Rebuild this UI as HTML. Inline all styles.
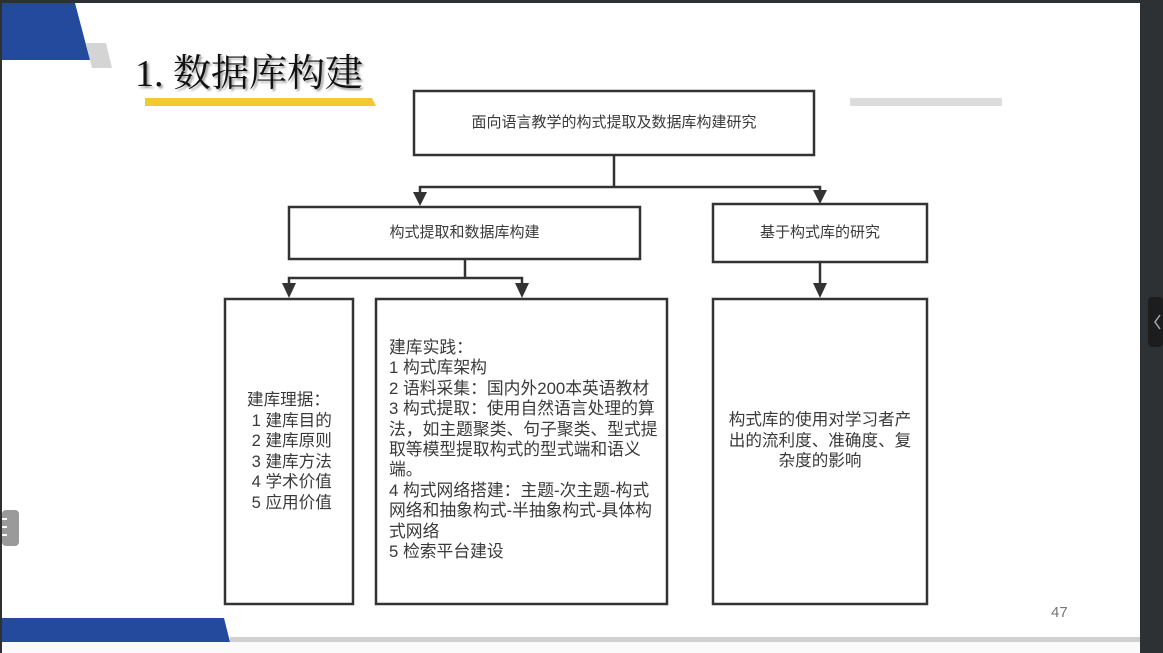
<!DOCTYPE html>
<html><head><meta charset="utf-8"><style>
html,body{margin:0;padding:0}
body{width:1163px;height:653px;position:relative;overflow:hidden;background:#fff;font-family:"Liberation Sans","Noto Sans CJK SC",sans-serif}
.t{position:absolute;color:#3a3a3a;font-size:16px;line-height:20.4px;white-space:nowrap}
.c{text-align:center}
</style></head><body>
<svg width="1163" height="653" style="position:absolute;left:0;top:0">
<rect x="0" y="0" width="1163" height="3" fill="#2e3133"/>
<rect x="0" y="0" width="2" height="653" fill="#2e3133"/>
<rect x="1140" y="0" width="23" height="653" fill="#2e3133"/>
<rect x="1148" y="297" width="15" height="50" rx="4" fill="#1c1d1f"/>
<polyline points="1160,315 1155,322 1160,329" fill="none" stroke="#aaa" stroke-width="1.5"/>
<polygon points="2,3 75,3 90,60 2,60" fill="#244a9e"/>
<polygon points="86,43 106,43 112,68 92,68" fill="#d4d4d4"/>
<polygon points="145,98 372,98 376,106 145,106" fill="#f5c832"/>
<rect x="850" y="98" width="152" height="8" fill="#dcdcdc"/>
<rect x="2" y="510" width="17" height="36" rx="4" fill="#9a9a9a"/>
<rect x="2" y="518" width="5" height="2" fill="#fff"/><rect x="2" y="526" width="5" height="2" fill="#fff"/><rect x="2" y="534" width="5" height="2" fill="#fff"/>
<polygon points="2,618 224,618 230,642 2,642" fill="#244a9e"/>
<rect x="230" y="637" width="910" height="5" fill="#d0d0d0"/>
<rect x="2" y="642" width="1138" height="11" fill="#fafafa"/>
<g fill="none" stroke="#333" stroke-width="2.5">
<rect x="414" y="91" width="400" height="64"/>
<rect x="289" y="207" width="351" height="52"/>
<rect x="713" y="204" width="214" height="58"/>
<rect x="225" y="299" width="128" height="305"/>
<rect x="376" y="299" width="291" height="305"/>
<rect x="713" y="299" width="214" height="305"/>
<polyline points="614,155 614,187"/>
<polyline points="420,195 420,187 820,187 820,193"/>
<polyline points="465,259 465,278"/>
<polyline points="289,286 289,278 522,278 522,285"/>
<polyline points="820,262 820,285"/>
</g>
<g fill="#333">
<polygon points="413,192 427,192 420,206"/>
<polygon points="813,190 827,190 820,204"/>
<polygon points="282,283 296,283 289,298"/>
<polygon points="515,283 529,283 522,298"/>
<polygon points="813,283 827,283 820,298"/>
</g>
</svg>
<div class="t" style="left:135px;top:52px;font-family:'Liberation Serif','Noto Serif CJK SC',serif;font-size:38px;line-height:44px;color:#111;text-shadow:2px 2px 2px #999">1. 数据库构建</div>
<div class="t c" style="left:414px;top:113px;width:400px;font-size:15px">面向语言教学的构式提取及数据库构建研究</div>
<div class="t c" style="left:289px;top:223px;width:351px;font-size:15px">构式提取和数据库构建</div>
<div class="t c" style="left:713px;top:223px;width:214px;font-size:15px">基于构式库的研究</div>
<div class="t" style="left:247px;top:390px;line-height:20.6px;font-size:16.6px">建库理据：<br>&nbsp;1 建库目的<br>&nbsp;2 建库原则<br>&nbsp;3 建库方法<br>&nbsp;4 学术价值<br>&nbsp;5 应用价值</div>
<div class="t" style="left:389px;top:338px;line-height:20.4px;font-size:16.8px">建库实践：<br>1 构式库架构<br>2 语料采集：国内外200本英语教材<br>3 构式提取：使用自然语言处理的算<br>法，如主题聚类、句子聚类、型式提<br>取等模型提取构式的型式端和语义<br>端。<br>4 构式网络搭建：主题-次主题-构式<br>网络和抽象构式-半抽象构式-具体构<br>式网络<br>5 检索平台建设</div>
<div class="t c" style="left:713px;top:410px;width:214px;line-height:20.6px;font-size:16.6px">构式库的使用对学习者产<br>出的流利度、准确度、复<br>杂度的影响</div>
<div class="t" style="left:1051px;top:603px;color:#777;font-size:15px">47</div>
</body></html>
